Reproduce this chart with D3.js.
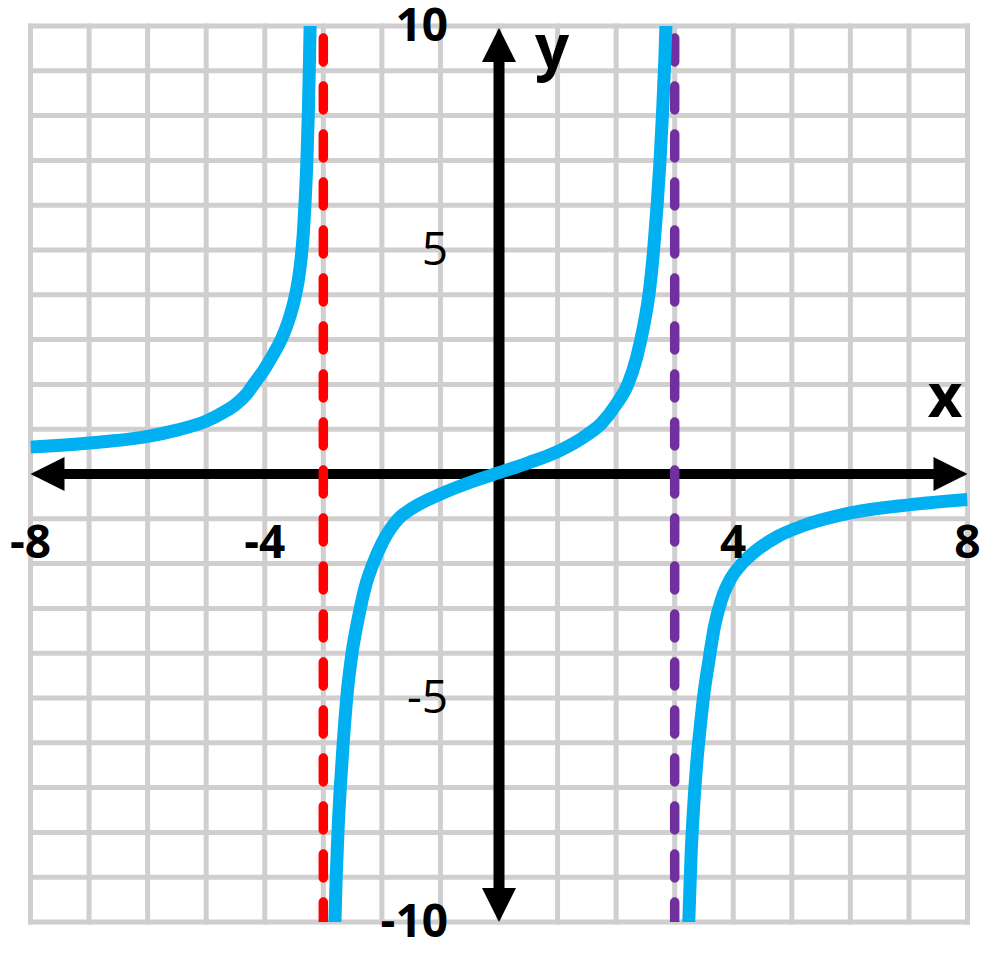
<!DOCTYPE html>
<html>
<head>
  <title>Rational function graph</title>
  <script src="https://d3js.org/d3.v7.min.js"></script>
  <style>
    body { margin: 0; background: #fff; }
    text { font-family: "Open Sans", "Noto Sans", sans-serif; }
  </style>
</head>
<body>
  <div id="graph"></div>
  <script>
  // axis ranges and labels
  const xRange = [-8, 8];
  const yRange = [-10, 10];
  const xTickLabels = [-8, -4, 4, 8];
  const yTickLabels = [10, 5, -5, -10];
  const asymptoteX = [-3, 3];

  // curve branches
  const leftX = [-8, -7, -6, -5.5, -5, -4.7, -4.5, -4.3, -4.19, -4, -3.85, -3.72, -3.6, -3.5, -3.43, -3.38, -3.34, -3.31, -3.28, -3.255, -3.235, -3.22];
  const leftY = [0.6, 0.69, 0.84, 0.98, 1.18, 1.38, 1.55, 1.8, 2.0, 2.35, 2.68, 3.0, 3.4, 3.85, 4.3, 4.8, 5.4, 6.1, 7.0, 8.1, 9.3, 10.4];

  const midX = [-2.81, -2.78, -2.75, -2.71, -2.66, -2.6, -2.51, -2.4, -2.28, -2.15, -1.98, -1.72, -1.5, -1.0, -0.5, 0, 0.5, 1.0, 1.5, 1.75, 2.0, 2.2, 2.35, 2.47, 2.57, 2.64, 2.7, 2.75, 2.79, 2.83, 2.86];
  const midY = [-10.4, -9, -8, -7, -6, -5, -4, -3.2, -2.5, -2.0, -1.5, -1.0, -0.78, -0.45, -0.19, 0.03, 0.25, 0.5, 0.87, 1.13, 1.55, 2.0, 2.6, 3.3, 4.1, 5.0, 6.0, 7.0, 8.0, 9.2, 10.4];

  const rightX = [3.23, 3.28, 3.33, 3.38, 3.44, 3.5, 3.58, 3.68, 3.8, 3.95, 4.15, 4.4, 4.75, 5.2, 6, 7, 8];
  const rightY = [-10.4, -8.5, -7.3, -6.4, -5.6, -4.9, -4.2, -3.4, -2.8, -2.35, -2.0, -1.7, -1.4, -1.15, -0.87, -0.69, -0.57];

  const width = 1000, height = 953;

  const svg = d3.select("#graph")
    .append("svg")
    .attr("width", width)
    .attr("height", height);

  const x = d3.scaleLinear().domain(xRange).range([30.5, 967.5]);
  const y = d3.scaleLinear().domain(yRange).range([922, 26]);

  svg.append("defs").append("clipPath")
    .attr("id", "plot-clip")
    .append("rect")
    .attr("x", x(xRange[0]))
    .attr("y", y(yRange[1]))
    .attr("width", x(xRange[1]) - x(xRange[0]))
    .attr("height", y(yRange[0]) - y(yRange[1]));

  // grid
  const grid = svg.append("g")
    .attr("stroke", "#d0cece")
    .attr("stroke-width", 5)
    .attr("stroke-linecap", "square");

  grid.selectAll(".vgrid")
    .data(x.ticks(16))
    .enter()
    .append("line")
    .attr("x1", d => x(d))
    .attr("x2", d => x(d))
    .attr("y1", y(yRange[1]))
    .attr("y2", y(yRange[0]));

  grid.selectAll(".hgrid")
    .data(y.ticks(20))
    .enter()
    .append("line")
    .attr("y1", d => y(d))
    .attr("y2", d => y(d))
    .attr("x1", x(xRange[0]))
    .attr("x2", x(xRange[1]));

  // axes with arrows
  const x0 = x(0), y0 = y(0);
  const head = 34, half = 17;

  svg.append("line")
    .attr("x1", x(xRange[0]) + 20).attr("x2", x(xRange[1]) - 20)
    .attr("y1", y0).attr("y2", y0)
    .attr("stroke", "#000").attr("stroke-width", 10);

  svg.append("line")
    .attr("x1", x0).attr("x2", x0)
    .attr("y1", y(yRange[1]) + 20).attr("y2", y(yRange[0]) - 20)
    .attr("stroke", "#000").attr("stroke-width", 11);

  const xl = x(xRange[0]), xr = x(xRange[1]);
  const yt = y(yRange[1]) + 2, yb = y(yRange[0]);
  const arrows = [
    [[xl, y0], [xl + head, y0 - half], [xl + head, y0 + half]],
    [[xr, y0], [xr - head, y0 - half], [xr - head, y0 + half]],
    [[x0, yt], [x0 - half, yt + head], [x0 + half, yt + head]],
    [[x0, yb], [x0 - half, yb - head], [x0 + half, yb - head]]
  ];
  svg.selectAll(".arrow")
    .data(arrows)
    .enter()
    .append("path")
    .attr("d", d => "M" + d.join("L") + "Z")
    .attr("fill", "#000");

  // asymptotes
  const asymptoteColors = ["#ff0000", "#7030a0"];
  svg.append("g")
    .attr("clip-path", "url(#plot-clip)")
    .selectAll("line")
    .data(asymptoteX)
    .enter()
    .append("line")
    .attr("x1", d => x(d))
    .attr("x2", d => x(d))
    .attr("y1", y(yRange[1]) + 12)
    .attr("y2", y(yRange[0]) + 6)
    .attr("stroke", (d, i) => asymptoteColors[i])
    .attr("stroke-width", 9.5)
    .attr("stroke-linecap", "round")
    .attr("stroke-dasharray", "24 24");

  // curve
  const branches = [
    d3.zip(leftX, leftY),
    d3.zip(midX, midY),
    d3.zip(rightX, rightY)
  ];
  const line = d3.line()
    .x(d => x(d[0]))
    .y(d => y(d[1]))
    .curve(d3.curveMonotoneX);

  svg.append("g")
    .attr("clip-path", "url(#plot-clip)")
    .selectAll("path")
    .data(branches)
    .enter()
    .append("path")
    .attr("d", line)
    .attr("fill", "none")
    .attr("stroke", "#00b0f0")
    .attr("stroke-width", 13);

  // labels
  svg.selectAll(".xlabel")
    .data(xTickLabels)
    .enter()
    .append("text")
    .attr("x", d => x(d))
    .attr("y", y0 + 84)
    .attr("text-anchor", "middle")
    .attr("font-size", 46)
    .attr("font-weight", 700)
    .text(d => d);

  svg.selectAll(".ylabel")
    .data(yTickLabels)
    .enter()
    .append("text")
    .attr("x", x0 - 51)
    .attr("y", d => y(d) + 15)
    .attr("text-anchor", "end")
    .attr("font-size", 46)
    .attr("font-weight", d => Math.abs(d) === 10 ? 700 : 400)
    .text(d => d);

  svg.append("text")
    .attr("x", 945).attr("y", 417)
    .attr("text-anchor", "middle")
    .attr("font-size", 60).attr("font-weight", 700)
    .text("x");

  svg.append("text")
    .attr("x", 552).attr("y", 68)
    .attr("text-anchor", "middle")
    .attr("font-size", 60).attr("font-weight", 700)
    .text("y");
  </script>
</body>
</html>
